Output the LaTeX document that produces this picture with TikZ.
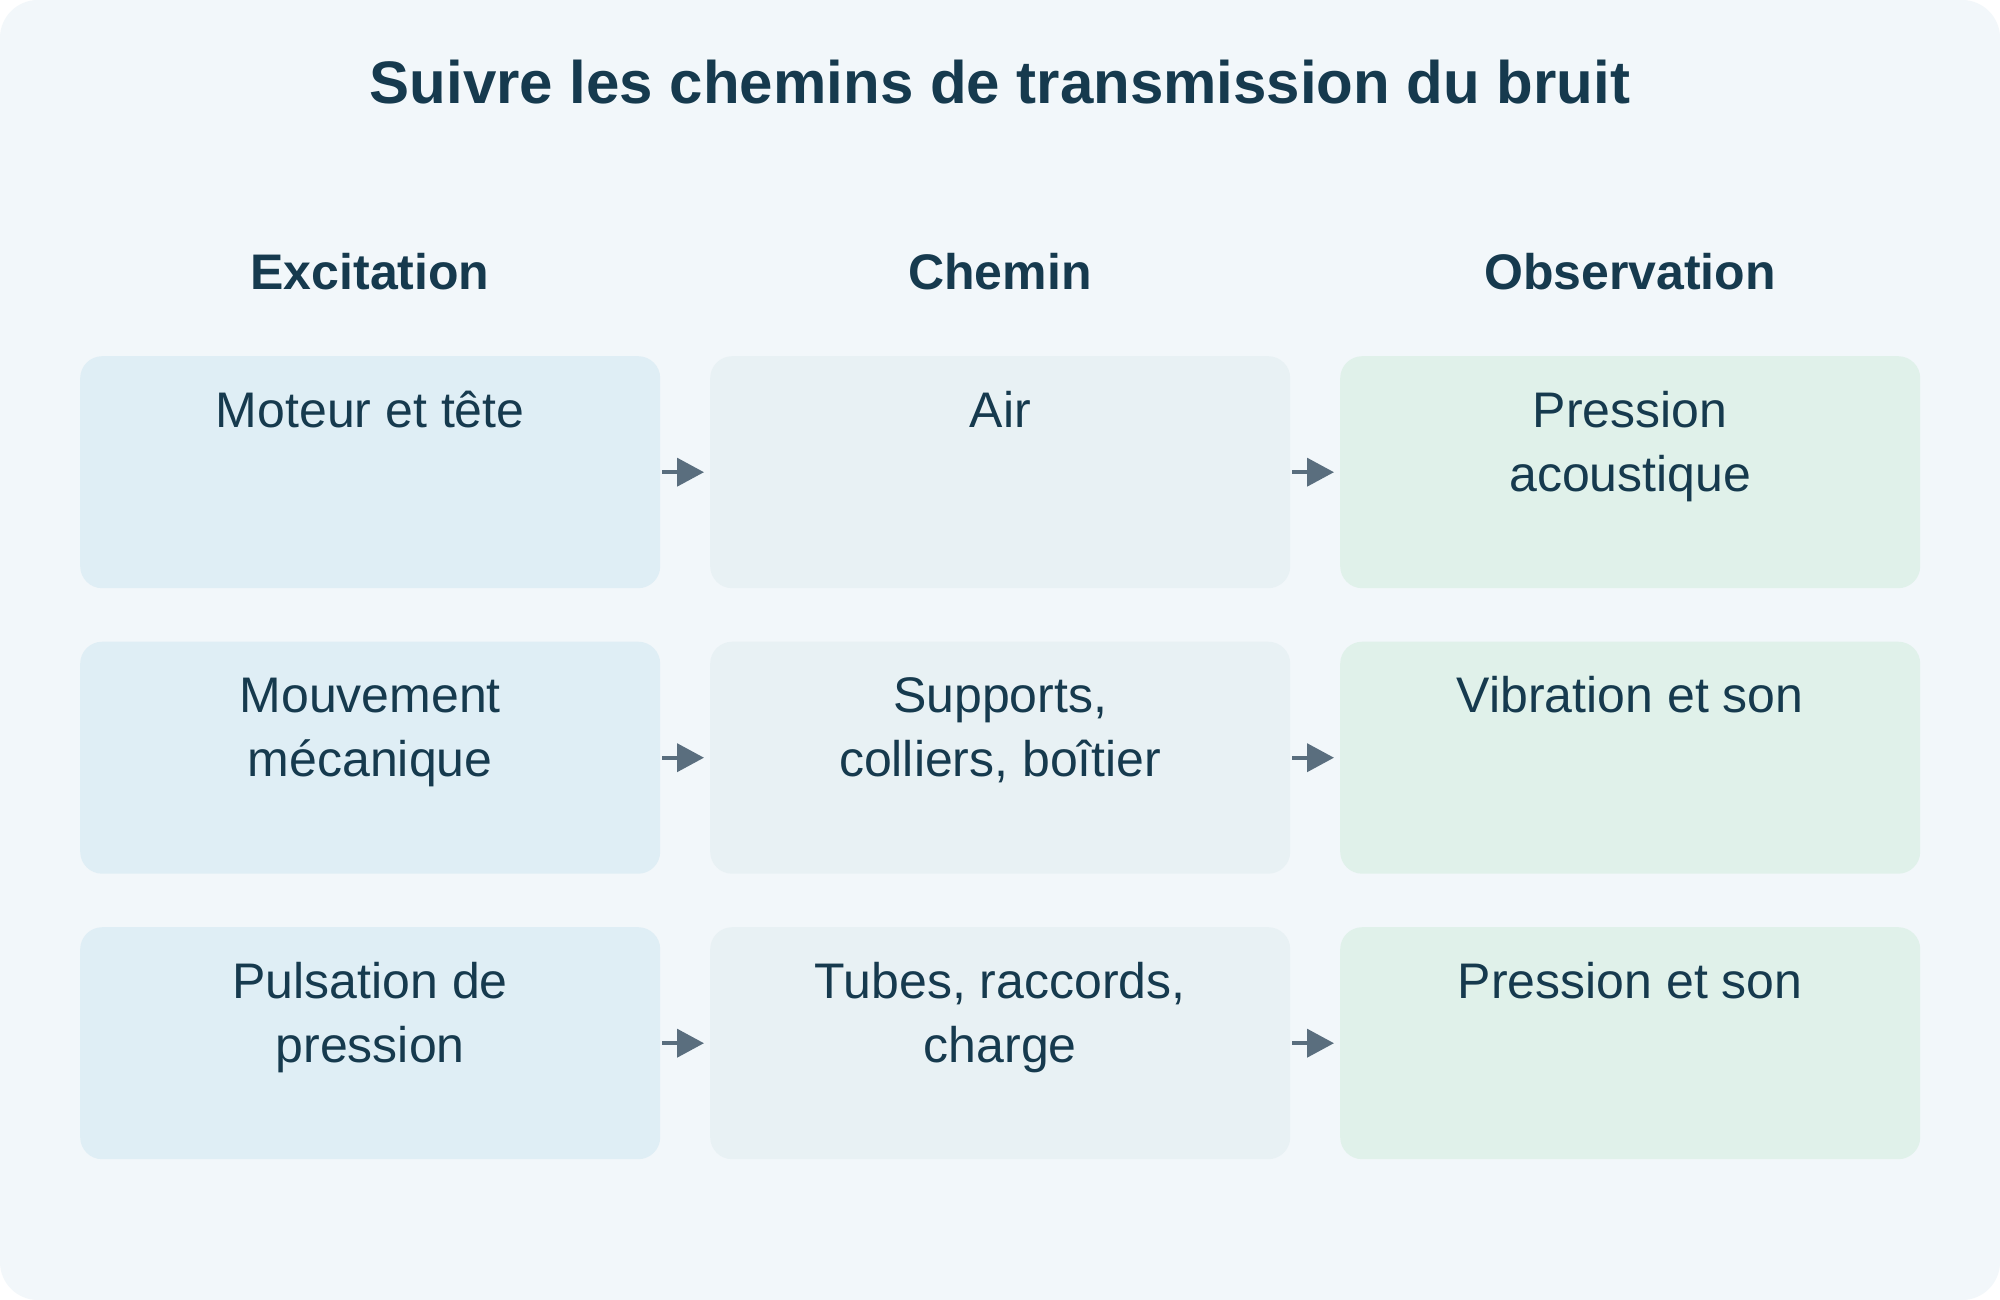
\documentclass[tikz,border=0pt]{standalone}
\usepackage{fontspec}
\setmainfont{Liberation Sans}
\usetikzlibrary{arrows.meta}
\definecolor{bgc}{HTML}{F2F7FA}
\definecolor{txt}{HTML}{163A4E}
\definecolor{cexc}{HTML}{DFEEF5}
\definecolor{cpath}{HTML}{E8F1F4}
\definecolor{cobs}{HTML}{E0F1EA}
\definecolor{arrc}{HTML}{5A6E7E}
\newcommand{\toplines}[1]{\begin{tabular}[t]{@{}c@{}}#1\end{tabular}}
\tikzset{
  box/.style={draw=none, rounded corners=22pt, minimum width=580pt, minimum height=232pt, inner sep=0pt, anchor=north west},
  boxtext/.style={text=txt, font=\fontsize{50}{64}\selectfont, inner sep=0pt, anchor=base},
  headtext/.style={text=txt, font=\fontsize{50}{60}\selectfont\bfseries, inner sep=0pt, anchor=base},
  titletext/.style={text=txt, font=\fontsize{60}{72}\selectfont\bfseries, inner sep=0pt, anchor=base},
  arr/.style={draw=arrc, line width=4pt, -{Triangle[length=27pt,width=28pt]}}
}
\begin{document}
\begin{tikzpicture}[x=1pt,y=-1pt]
\useasboundingbox (0,0) rectangle (2000,1300);
\fill[white] (0,0) rectangle (2000,1300);
\fill[bgc, rounded corners=38pt] (0,0) rectangle (2000,1300);

\node[titletext] (title) at (1000,104) {Suivre les chemins de transmission du bruit};

\node[headtext] (h1) at (370,289) {Excitation};
\node[headtext] (h2) at (1000,289) {Chemin};
\node[headtext] (h3) at (1630,289) {Observation};

% row 1
\node[box, fill=cexc] (e1) at (80,356) {};
\node[box, fill=cpath] (p1) at (710,356) {};
\node[box, fill=cobs] (o1) at (1340,356) {};
% row 2
\node[box, fill=cexc] (e2) at (80,641.5) {};
\node[box, fill=cpath] (p2) at (710,641.5) {};
\node[box, fill=cobs] (o2) at (1340,641.5) {};
% row 3
\node[box, fill=cexc] (e3) at (80,927) {};
\node[box, fill=cpath] (p3) at (710,927) {};
\node[box, fill=cobs] (o3) at (1340,927) {};

\node[boxtext] (e1t) at ([yshift=-71pt]e1.north) {\toplines{Moteur et tête}};
\node[boxtext] (p1t) at ([yshift=-71pt]p1.north) {\toplines{Air}};
\node[boxtext] (o1t) at ([yshift=-71pt]o1.north) {\toplines{Pression\\acoustique}};
\node[boxtext] (e2t) at ([yshift=-71pt]e2.north) {\toplines{Mouvement\\mécanique}};
\node[boxtext] (p2t) at ([yshift=-71pt]p2.north) {\toplines{Supports,\\colliers, boîtier}};
\node[boxtext] (o2t) at ([yshift=-71pt]o2.north) {\toplines{Vibration et son}};
\node[boxtext] (e3t) at ([yshift=-71pt]e3.north) {\toplines{Pulsation de\\pression}};
\node[boxtext] (p3t) at ([yshift=-71pt]p3.north) {\toplines{Tubes, raccords,\\charge}};
\node[boxtext] (o3t) at ([yshift=-71pt]o3.north) {\toplines{Pression et son}};

\foreach \r in {1,2,3}{
  \draw[arr] ([xshift=2pt]e\r.east) -- ([xshift=-6pt]p\r.west);
  \draw[arr] ([xshift=2pt]p\r.east) -- ([xshift=-6pt]o\r.west);
}
\end{tikzpicture}
\end{document}
